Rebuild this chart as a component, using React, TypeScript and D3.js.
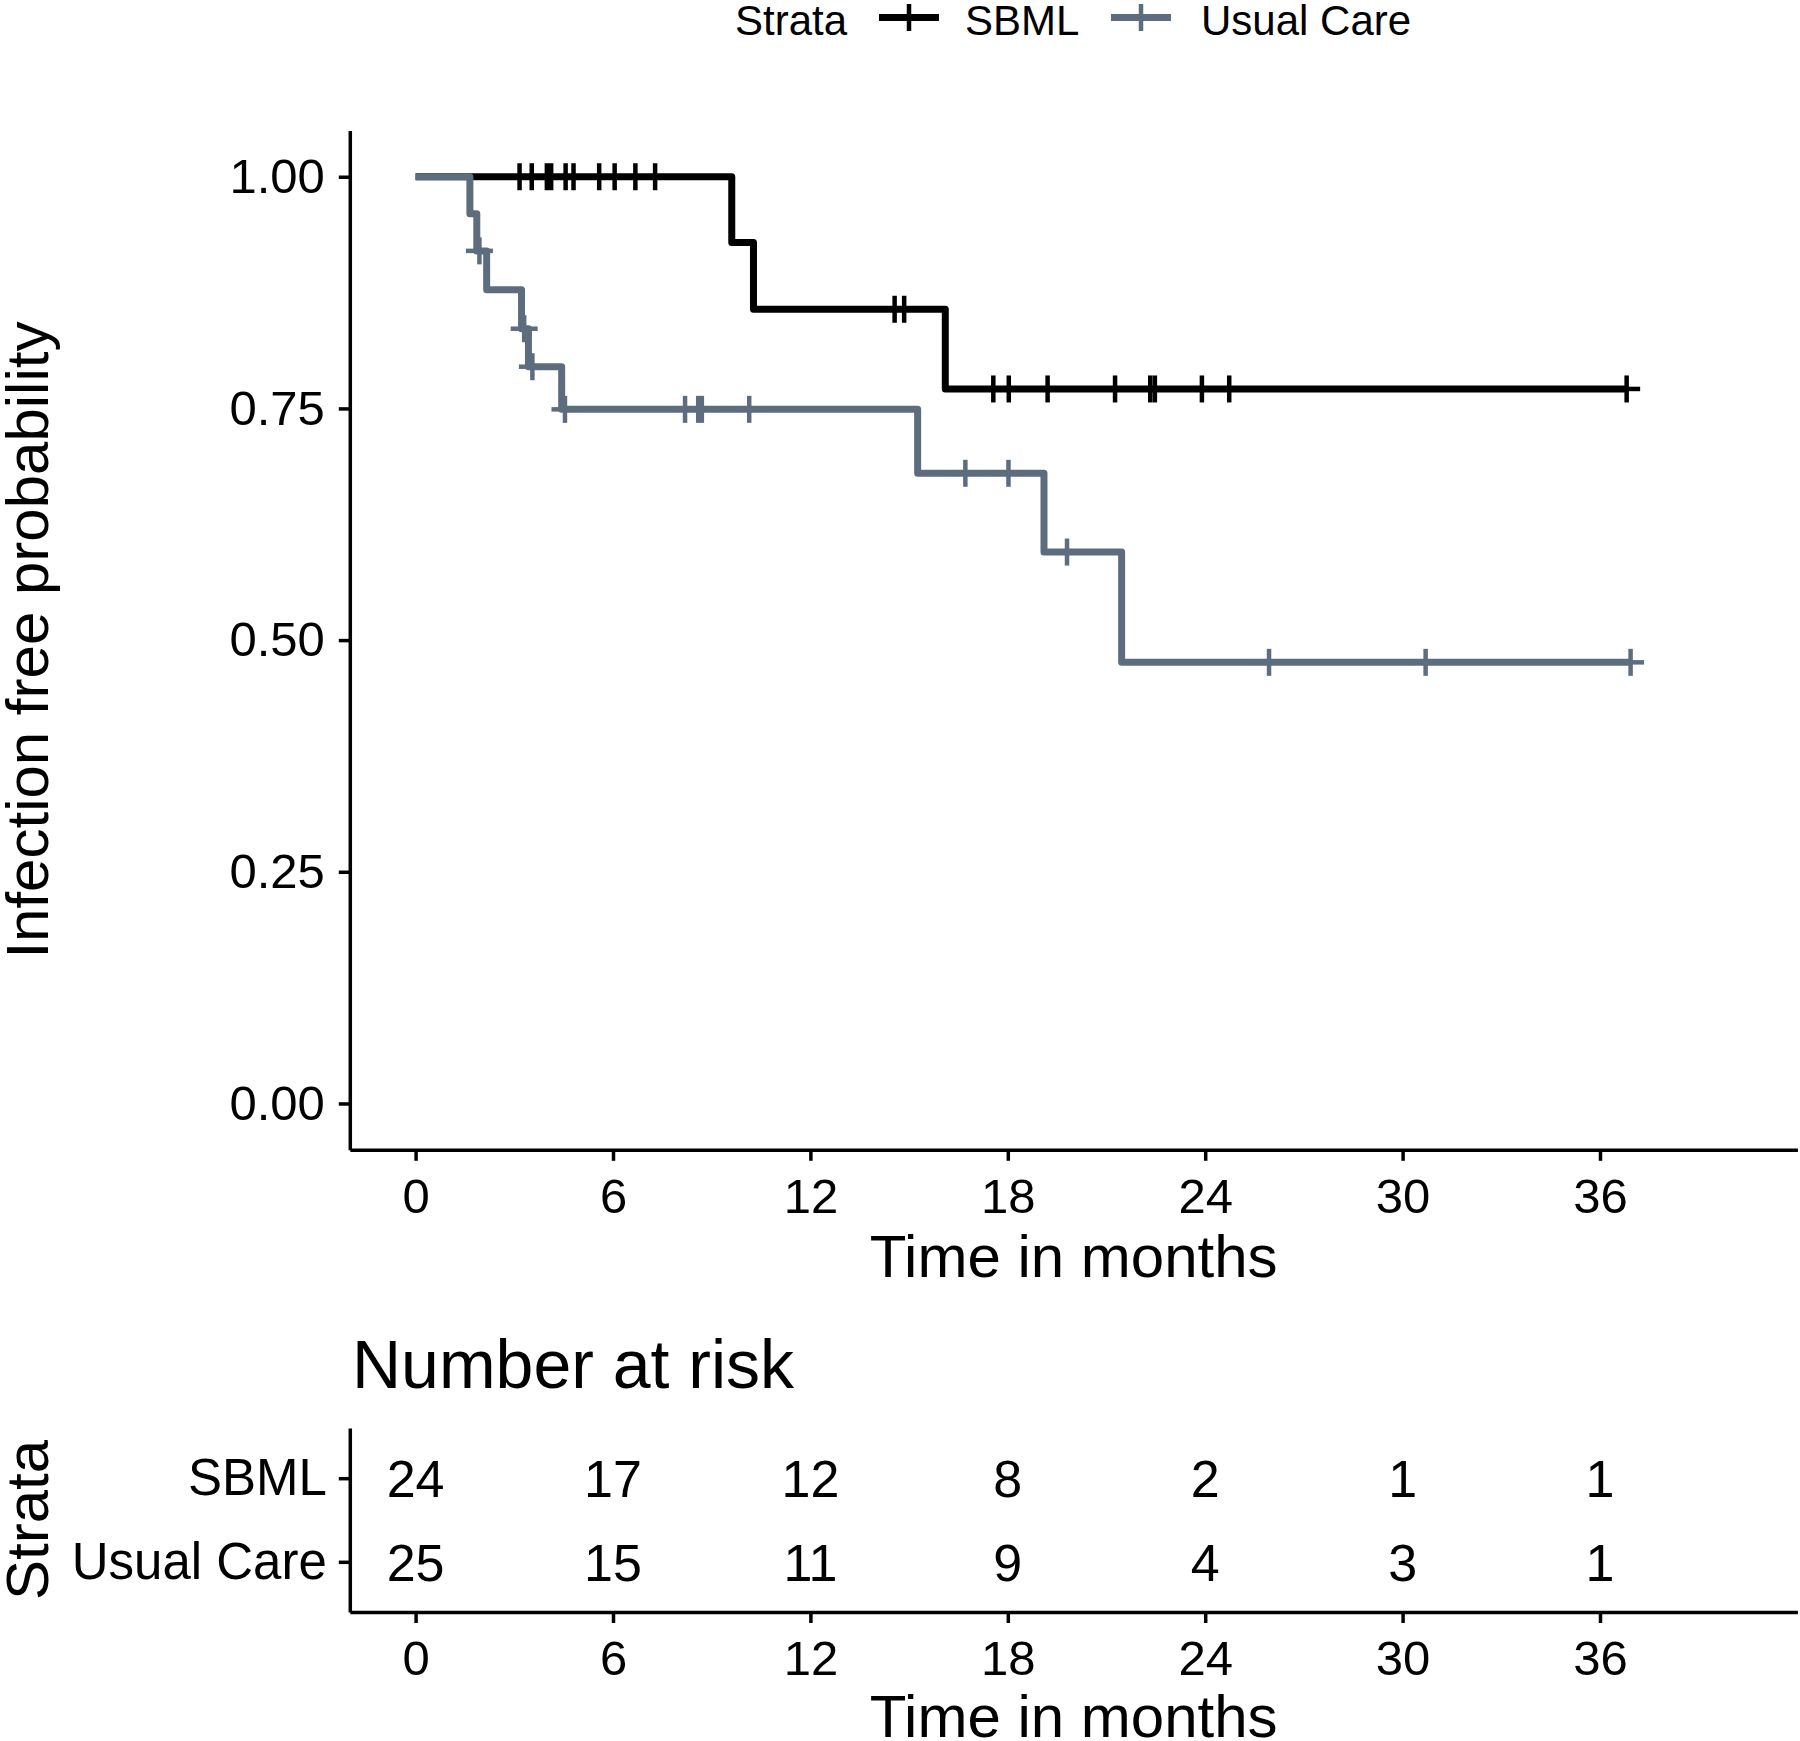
import React, { useEffect, useRef } from "react";
import * as d3 from "d3";

// Kaplan-Meier steps (time in months, survival)
const sbmlTimes = [0, 9.61, 10.27, 16.1];
const sbmlSurv = [1.0, 0.929, 0.857, 0.771];
const sbmlCensor = [3.16, 3.53, 3.99, 4.12, 4.56, 4.8, 5.58, 6.05, 6.68, 7.28, 14.56, 14.85, 17.56, 18.03, 19.21, 21.26, 22.33, 22.47, 23.9, 24.73, 36.81];

const ucTimes = [0, 1.65, 1.86, 2.16, 3.22, 3.43, 4.44, 15.26, 19.1, 21.46];
const ucSurv = [1.0, 0.96, 0.92, 0.878, 0.836, 0.795, 0.749, 0.68, 0.595, 0.476];
const ucCensor = [1.94, 3.3, 3.55, 4.54, 8.19, 8.59, 8.7, 10.14, 16.71, 18.02, 19.8, 25.94, 30.7, 36.93];

const strata = ["SBML", "Usual Care"];
const colors = ["#000000", "#5D6D7E"];

const xTicks = [0, 6, 12, 18, 24, 30, 36];
const yTicks = [0, 0.25, 0.5, 0.75, 1.0];
const sbmlRisk = [24, 17, 12, 8, 2, 1, 1];
const ucRisk = [25, 15, 11, 9, 4, 3, 1];

const FONT = "'Liberation Sans', Arial, Helvetica, sans-serif";

const App = () => {
  const svgRef = useRef<SVGSVGElement | null>(null);

  useEffect(() => {
    const svg = d3.select(svgRef.current);
    svg.selectAll("*").remove();
    svg.attr("font-family", FONT);

    const x = d3.scaleLinear().domain([-2, 42]).range([349.8, 1797.4]);
    const y = d3.scaleLinear().domain([-0.05, 1.05]).range([1149.8, 130.4]);

    const styleAxis = (g, size) => {
      g.select(".domain").attr("stroke", "#000").attr("stroke-width", 3.5);
      g.selectAll(".tick line").attr("stroke", "#000").attr("stroke-width", 3.5);
      g.selectAll(".tick text").attr("fill", "#000").attr("font-size", size).attr("font-family", FONT);
    };

    // main panel axes
    const gx = svg.append("g")
      .attr("transform", `translate(0,${y.range()[0]})`)
      .call(d3.axisBottom(x).tickValues(xTicks).tickFormat(d3.format("d")).tickSize(11).tickSizeOuter(0).tickPadding(17));
    styleAxis(gx, 49);

    const gy = svg.append("g")
      .attr("transform", `translate(${x.range()[0]},0)`)
      .call(d3.axisLeft(y).tickValues(yTicks).tickFormat(d3.format(".2f")).tickSize(11).tickSizeOuter(0).tickPadding(14));
    styleAxis(gy, 49);

    // curves
    const line = d3.line()
      .x(d => x(d[0]))
      .y(d => y(d[1]))
      .curve(d3.curveStepAfter);

    const groups = [
      { times: sbmlTimes, surv: sbmlSurv, censor: sbmlCensor, color: colors[0] },
      { times: ucTimes, surv: ucSurv, censor: ucCensor, color: colors[1] }
    ];

    groups.forEach(gr => {
      const end = d3.max(gr.censor);
      const pts = gr.times.map((t, i) => [t, gr.surv[i]]);
      pts.push([end, gr.surv[gr.surv.length - 1]]);
      svg.append("path")
        .attr("d", line(pts))
        .attr("fill", "none")
        .attr("stroke", gr.color)
        .attr("stroke-width", 7)
        .attr("stroke-linejoin", "round");
    });

    const arm = 13.5;
    groups.forEach(gr => {
      const cg = svg.append("g").attr("stroke", gr.color).attr("stroke-width", 4.5);
      gr.censor.forEach(c => {
        const s = gr.surv[d3.bisectRight(gr.times, c) - 1];
        const cx = x(c), cy = y(s);
        cg.append("line").attr("x1", cx).attr("x2", cx).attr("y1", cy - arm).attr("y2", cy + arm);
        cg.append("line").attr("x1", cx - arm).attr("x2", cx + arm).attr("y1", cy).attr("y2", cy);
      });
    });

    // y axis title
    svg.append("text")
      .attr("transform", `translate(48,${(y.range()[0] + y.range()[1]) / 2}) rotate(-90)`)
      .attr("text-anchor", "middle")
      .attr("font-size", 60)
      .text("Infection free probability");

    svg.append("text")
      .attr("x", (x.range()[0] + x.range()[1]) / 2)
      .attr("y", 1277)
      .attr("text-anchor", "middle")
      .attr("font-size", 60)
      .text("Time in months");

    // legend
    const legend = svg.append("g");
    legend.append("text").attr("x", 735).attr("y", 35).attr("font-size", 42).text("Strata");
    const keys = [
      { x0: 879, label: "SBML", lx: 965 },
      { x0: 1111, label: "Usual Care", lx: 1201 }
    ];
    keys.forEach((k, i) => {
      const cy = 17.5;
      legend.append("line").attr("x1", k.x0).attr("x2", k.x0 + 60).attr("y1", cy).attr("y2", cy)
        .attr("stroke", colors[i]).attr("stroke-width", 7);
      legend.append("line").attr("x1", k.x0 + 30).attr("x2", k.x0 + 30).attr("y1", cy - arm).attr("y2", cy + arm)
        .attr("stroke", colors[i]).attr("stroke-width", 4.5);
      legend.append("text").attr("x", k.lx).attr("y", 35).attr("font-size", 42).text(k.label);
    });

    // risk table
    svg.append("text")
      .attr("x", 352)
      .attr("y", 1388)
      .attr("font-size", 68)
      .text("Number at risk");

    const yr = d3.scalePoint().domain(strata).range([1428, 1612]).padding(0.6);

    const rx = svg.append("g")
      .attr("transform", `translate(0,${yr.range()[1]})`)
      .call(d3.axisBottom(x).tickValues(xTicks).tickFormat(d3.format("d")).tickSize(11).tickSizeOuter(0).tickPadding(17));
    styleAxis(rx, 49);

    const ry = svg.append("g")
      .attr("transform", `translate(${x.range()[0]},0)`)
      .call(d3.axisLeft(yr).tickSize(11).tickSizeOuter(0).tickPadding(12));
    styleAxis(ry, 51);

    const riskRows = [sbmlRisk, ucRisk];
    riskRows.forEach((row, i) => {
      svg.append("g").selectAll("text")
        .data(row)
        .join("text")
        .attr("x", (d, j) => x(xTicks[j]))
        .attr("y", yr(strata[i]))
        .attr("dy", "0.36em")
        .attr("text-anchor", "middle")
        .attr("font-size", 52)
        .attr("fill", "#000")
        .text(d => d);
    });

    svg.append("text")
      .attr("transform", `translate(48,${(yr.range()[0] + yr.range()[1]) / 2}) rotate(-90)`)
      .attr("text-anchor", "middle")
      .attr("font-size", 60)
      .text("Strata");

    svg.append("text")
      .attr("x", (x.range()[0] + x.range()[1]) / 2)
      .attr("y", 1737)
      .attr("text-anchor", "middle")
      .attr("font-size", 60)
      .text("Time in months");
  }, []);

  return (
    <div style={{ position: "absolute", left: 0, top: 0, background: "#fff" }}>
      <svg ref={svgRef} width={1800} height={1741} style={{ display: "block" }}></svg>
    </div>
  );
};

export default App;
